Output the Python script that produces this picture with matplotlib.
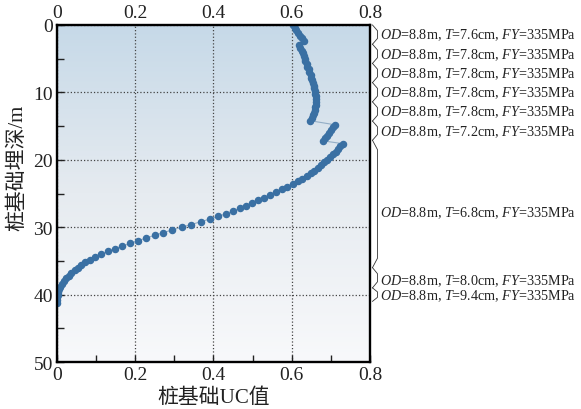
import numpy as np
import matplotlib
matplotlib.use('Agg')
import matplotlib.pyplot as plt
from matplotlib.ticker import MultipleLocator, FuncFormatter
from matplotlib.colors import LinearSegmentedColormap
import matplotlib.transforms as mtransforms

# fonts: Times-like for latin text, CJK fallback for the chinese labels
plt.rcParams['font.family'] = ['Liberation Serif', 'Noto Sans CJK SC']
plt.rcParams['mathtext.fontset'] = 'custom'
plt.rcParams['mathtext.rm'] = 'Liberation Serif'
plt.rcParams['mathtext.it'] = 'Liberation Serif:italic'

# pile UC values, one list per pile section (depth in m)
depth_1 = [0.0, 0.4, 0.8, 1.2, 1.6, 2.0, 2.4]
uc_1 = [0.604, 0.608, 0.612, 0.617, 0.621, 0.626, 0.631]

depth_2 = [3.0, 3.4, 3.8, 4.2, 4.6, 5.0, 5.4, 5.8, 6.2, 6.6, 7.0, 7.4, 7.8, 8.2, 8.6,
           9.0, 9.4, 9.8, 10.2, 10.6, 11.0, 11.4, 11.8, 12.2, 12.6, 13.0, 13.4, 13.8, 14.2]
uc_2 = [0.619, 0.622, 0.625, 0.628, 0.631, 0.633, 0.635, 0.638, 0.640, 0.643, 0.645, 0.648,
        0.650, 0.652, 0.654, 0.656, 0.657, 0.659, 0.660, 0.661, 0.662, 0.662, 0.661, 0.660,
        0.659, 0.657, 0.654, 0.651, 0.647]

depth_3 = [14.8, 15.2, 15.6, 16.0, 16.4, 16.8, 17.2]
uc_3 = [0.710, 0.705, 0.700, 0.695, 0.690, 0.685, 0.681]

depth_4 = [17.6, 18.0, 18.4, 18.8, 19.2, 19.6, 20.0, 20.4, 20.8, 21.2, 21.6, 22.0, 22.4,
           22.8, 23.2, 23.6, 24.0, 24.4, 24.8, 25.2, 25.6, 26.0, 26.4, 26.8, 27.2, 27.6,
           28.0, 28.4, 28.8, 29.2, 29.6, 30.0, 30.4, 30.8, 31.2, 31.6, 32.0, 32.4, 32.8,
           33.2, 33.6, 34.0, 34.4, 34.8, 35.2, 35.6, 36.0, 36.4, 36.8, 37.2, 37.6, 38.0,
           38.4, 38.8, 39.2, 39.6, 40.0, 40.4, 40.8, 41.2]
uc_4 = [0.730, 0.724, 0.718, 0.712, 0.705, 0.698, 0.691, 0.683, 0.675, 0.667, 0.658, 0.648,
        0.638, 0.627, 0.615, 0.602, 0.588, 0.574, 0.560, 0.545, 0.530, 0.514, 0.499, 0.483,
        0.467, 0.450, 0.432, 0.412, 0.390, 0.367, 0.343, 0.319, 0.295, 0.272, 0.250, 0.228,
        0.207, 0.187, 0.167, 0.148, 0.130, 0.113, 0.098, 0.084, 0.072, 0.062, 0.053, 0.045,
        0.037, 0.030, 0.023, 0.017, 0.012, 0.008, 0.005, 0.003, 0.002, 0.001, 0.001, 0.000]

depth = depth_1 + depth_2 + depth_3 + depth_4
uc = uc_1 + uc_2 + uc_3 + uc_4

# section annotations on the right side
sec_top = [0.0, 2.85, 5.7, 8.55, 11.4, 14.25, 17.1, 36.0, 39.0]
sec_bot = [2.85, 5.7, 8.55, 11.4, 14.25, 17.1, 36.0, 39.0, 41.0]
sec_text_y = [1.4, 4.3, 7.1, 10.0, 12.8, 15.7, 27.8, 37.9, 40.1]
sec_od = ['8.8'] * 9
sec_t = ['7.6', '7.8', '7.8', '7.8', '7.8', '7.2', '6.8', '8.0', '9.4']
sec_fy = ['335'] * 9

fig = plt.figure(figsize=(5.81, 4.10), dpi=100)
ax = fig.add_axes([0.0981, 0.1146, 0.5387, 0.822])

# soft vertical gradient background
bg = LinearSegmentedColormap.from_list('bg', ['#c6d9e8', '#e6ebf0', '#f8f9fb'])
ax.imshow(np.linspace(0, 1, 256)[:, None], cmap=bg, extent=[0, 0.8, 50, 0],
          aspect='auto', zorder=0)

ax.plot(uc, depth, '-o', color='#93aec6', lw=0.8, mfc='#3a70a3', mec='#3a70a3',
        ms=4.4, zorder=3, clip_on=True)

ax.set_xlim(0, 0.8)
ax.set_ylim(50, 0)
ax.xaxis.set_major_locator(MultipleLocator(0.2))
ax.xaxis.set_minor_locator(MultipleLocator(0.1))
ax.yaxis.set_major_locator(MultipleLocator(10))
ax.yaxis.set_minor_locator(MultipleLocator(5))
ax.xaxis.set_major_formatter(FuncFormatter(lambda v, p: '0' if abs(v) < 1e-9 else '%.1f' % v))
ax.tick_params(which='both', direction='in', top=False, right=False, labeltop=True,
               labelsize=14, width=1, length=5, pad=3, colors='#222222')
ax.grid(True, which='major', ls=':', color='#444444', lw=0.9)
ax.set_axisbelow(False)
for s in ax.spines.values():
    s.set_linewidth(1.7)
    s.set_zorder(5)

ax.set_xlabel('桩基础UC值', fontsize=15, color='#222222')
ax.xaxis.set_label_coords(0.5, -0.075)
ax.set_ylabel('桩基础埋深/m', fontsize=15, color='#222222')
ax.yaxis.set_label_coords(-0.095, 0.58)

# brackets + section labels
trans = mtransforms.blended_transform_factory(ax.transAxes, ax.transData)
x0 = 1 + 2.5 / 313
x1 = 1 + 7.5 / 313
for top, bot, ty, od, t, fy in zip(sec_top, sec_bot, sec_text_y, sec_od, sec_t, sec_fy):
    d = min(0.3 * (bot - top), 1.4)
    ax.plot([x0, x1, x1, x0], [top, top + d, bot - d, bot], color='#333333', lw=0.6,
            transform=trans, clip_on=False)
    ax.text(1 + 10 / 313, ty, r'$OD$=' + od + 'm, ' + r'$T$=' + t + 'cm, ' + r'$FY$=' + fy + 'MPa',
            transform=trans, fontsize=10.2, va='center', ha='left', color='#222222')

plt.savefig('out.png', dpi=100)
